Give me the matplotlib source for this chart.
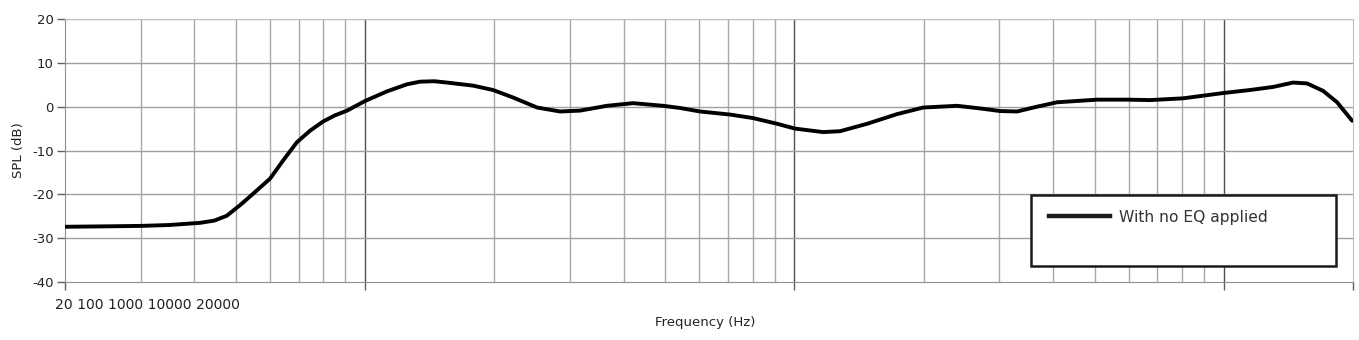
import matplotlib
matplotlib.use("Agg")
import matplotlib.pyplot as plt
from matplotlib.patches import Rectangle
from matplotlib.lines import Line2D

plt.rcParams['font.family'] = ['DejaVu Sans']

# Data
freq_hz = [20, 25, 30, 35, 41.3, 44.5, 47.6, 51.1, 54.8, 60.1, 64.4, 69.4,
           74.4, 79.8, 85, 90.8, 100, 112.5, 125.2, 134.2, 145, 155.2, 178.4,
           198.6, 221, 251.6, 284.5, 316.8, 366, 421, 494, 541.5, 602.9, 708,
           800.5, 910.8, 1003, 1166, 1277, 1477, 1734, 1994, 2392, 2706, 3014,
           3302, 3674, 4090, 5070, 5956, 6738, 8036, 9956, 11508, 13032,
           14506, 15638, 17038, 18366, 19900]
spl_db = [-27.4, -27.3, -27.2, -27.0, -26.5, -26.0, -24.9, -22.5, -19.9,
          -16.4, -12.3, -8.1, -5.5, -3.4, -2.0, -0.9, 1.3, 3.5, 5.1, 5.7, 5.8,
          5.5, 4.8, 3.8, 2.1, -0.2, -1.1, -0.9, 0.2, 0.8, 0.2, -0.3, -1.1,
          -1.8, -2.6, -3.9, -5.0, -5.8, -5.6, -3.9, -1.7, -0.2, 0.2, -0.4,
          -1.0, -1.1, 0.0, 1.0, 1.6, 1.6, 1.5, 1.9, 3.1, 3.8, 4.5, 5.5, 5.3,
          3.6, 1.0, -3.2]
series_label = "With no EQ applied"
tick_text = "20 100 1000 10000 20000"
y_ticks = [-40, -30, -20, -10, 0, 10, 20]

fig = plt.figure(figsize=(13.59, 3.40), dpi=100)
ax = fig.add_axes([65/1359, 1-282/340, (1353-65)/1359, (282-19)/340])

ax.set_xscale('log')
ax.set_xlim(20, 20000)
ax.set_ylim(-40, 20)

# grid
minor = []
for dec in [10, 100, 1000, 10000]:
    for m in range(2, 10):
        v = dec * m
        if 20 < v < 20000 and v not in (100, 1000, 10000):
            minor.append(v)
for v in minor:
    ax.axvline(v, color='#a8a8a8', lw=1.0, zorder=1)
for v in [100, 1000, 10000]:
    ax.axvline(v, color='#505050', lw=1.0, zorder=1)
for v in y_ticks[1:-1]:
    ax.axhline(v, color='#a0a0a0', lw=1.0, zorder=1)
ax.axhline(20, color='#b8b8b8', lw=1.0, zorder=1)

for s in ['left', 'bottom']:
    ax.spines[s].set_color('#909090')
for s in ['top', 'right']:
    ax.spines[s].set_color('#c0c0c0')

ax.plot(freq_hz, spl_db, color='black', lw=2.8, solid_capstyle='round',
        solid_joinstyle='round', zorder=3)

ax.set_yticks(y_ticks)
ax.set_yticklabels([str(v) for v in y_ticks], fontsize=9.5, color='#222222')
ax.tick_params(axis='y', length=6, color='#606060', width=1, pad=2)
ax.set_xticks([20, 100, 1000, 10000, 20000])
ax.set_xticklabels([''] * 5)
ax.xaxis.set_minor_locator(matplotlib.ticker.NullLocator())
ax.tick_params(axis='x', length=6, color='#606060', width=1)

ax.text(-0.0078, -0.06, tick_text, transform=ax.transAxes, fontsize=10.1,
        ha='left', va='top', color='#222222')
ax.set_xlabel("Frequency (Hz)", fontsize=9.5, color='#222222')
ax.xaxis.set_label_coords(0.497, -0.13)
ax.set_ylabel("SPL (dB)", fontsize=9.5, color='#222222')
ax.yaxis.set_label_coords(-0.031, 0.5)

# legend box
x0 = (1031-65)/1288
x1 = (1336-65)/1288
y0 = (282-266)/263
y1 = (282-195)/263
ax.add_patch(Rectangle((x0, y0), x1-x0, y1-y0, transform=ax.transAxes,
                       facecolor='white', edgecolor='#1a1a1a', lw=1.8, zorder=4))
handle = Line2D([], [], color='#1a1a1a', lw=3.2)
leg = ax.legend([handle], [series_label], loc='upper left',
                bbox_to_anchor=((1038-65)/1288, (282-199)/263),
                frameon=False, fontsize=11.2, handlelength=3.9,
                handletextpad=0.6, borderpad=0.2)
leg.set_zorder(5)
for t in leg.get_texts():
    t.set_color('#333333')

fig.savefig("out.png", dpi=100)
